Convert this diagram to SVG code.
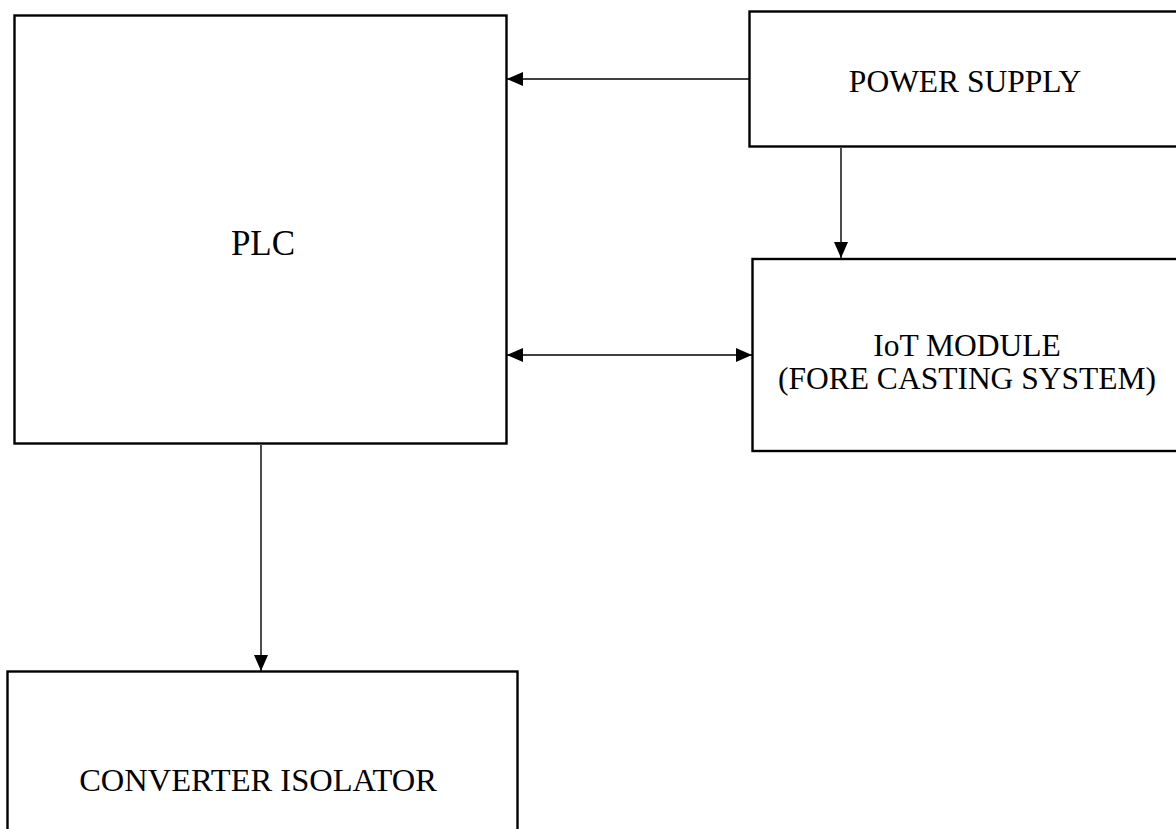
<svg xmlns="http://www.w3.org/2000/svg" width="1176" height="829" viewBox="0 0 1176 829">
<style>
.box{fill:#fff;stroke:#000;stroke-width:2.4}
.lbl{font-family:"Liberation Serif","Times New Roman",serif;font-size:31.5px;fill:#000;text-anchor:middle}
.big{font-size:35px}
.conv{font-size:32.5px}
.con{stroke:#000;stroke-width:1.4;fill:none}
</style>
<defs>
<marker id="ah" viewBox="0 0 16 14" refX="16" refY="7" markerWidth="16" markerHeight="14" markerUnits="userSpaceOnUse" orient="auto-start-reverse">
<path d="M0,0 L16,7 L0,14 Z" fill="#000"/>
</marker>
</defs>
<rect width="1176" height="829" fill="#fff"/>
<g id="plc">
<rect class="box" x="14.5" y="15.5" width="492" height="428"/>
<text class="lbl big" x="263" y="255">PLC</text>
</g>
<g id="power-supply">
<rect class="box" x="749.5" y="11.5" width="440" height="135"/>
<text class="lbl" x="965" y="92">POWER SUPPLY</text>
</g>
<g id="iot-module">
<rect class="box" x="752.5" y="259" width="440" height="192"/>
<text class="lbl" x="967" y="356">IoT MODULE</text>
<text class="lbl" x="967" y="389">(FORE CASTING SYSTEM)</text>
</g>
<g id="converter-isolator">
<rect class="box" x="7.5" y="671.5" width="510" height="180"/>
<text class="lbl conv" x="258" y="791">CONVERTER ISOLATOR</text>
</g>
<g id="connectors">
<line class="con" x1="749" y1="79" x2="507" y2="79" marker-end="url(#ah)"/>
<line class="con" x1="841" y1="148" x2="841" y2="258" marker-end="url(#ah)"/>
<line class="con" x1="507" y1="355" x2="752" y2="355" marker-start="url(#ah)" marker-end="url(#ah)"/>
<line class="con" x1="261" y1="445" x2="261" y2="671" marker-end="url(#ah)"/>
</g>
</svg>
